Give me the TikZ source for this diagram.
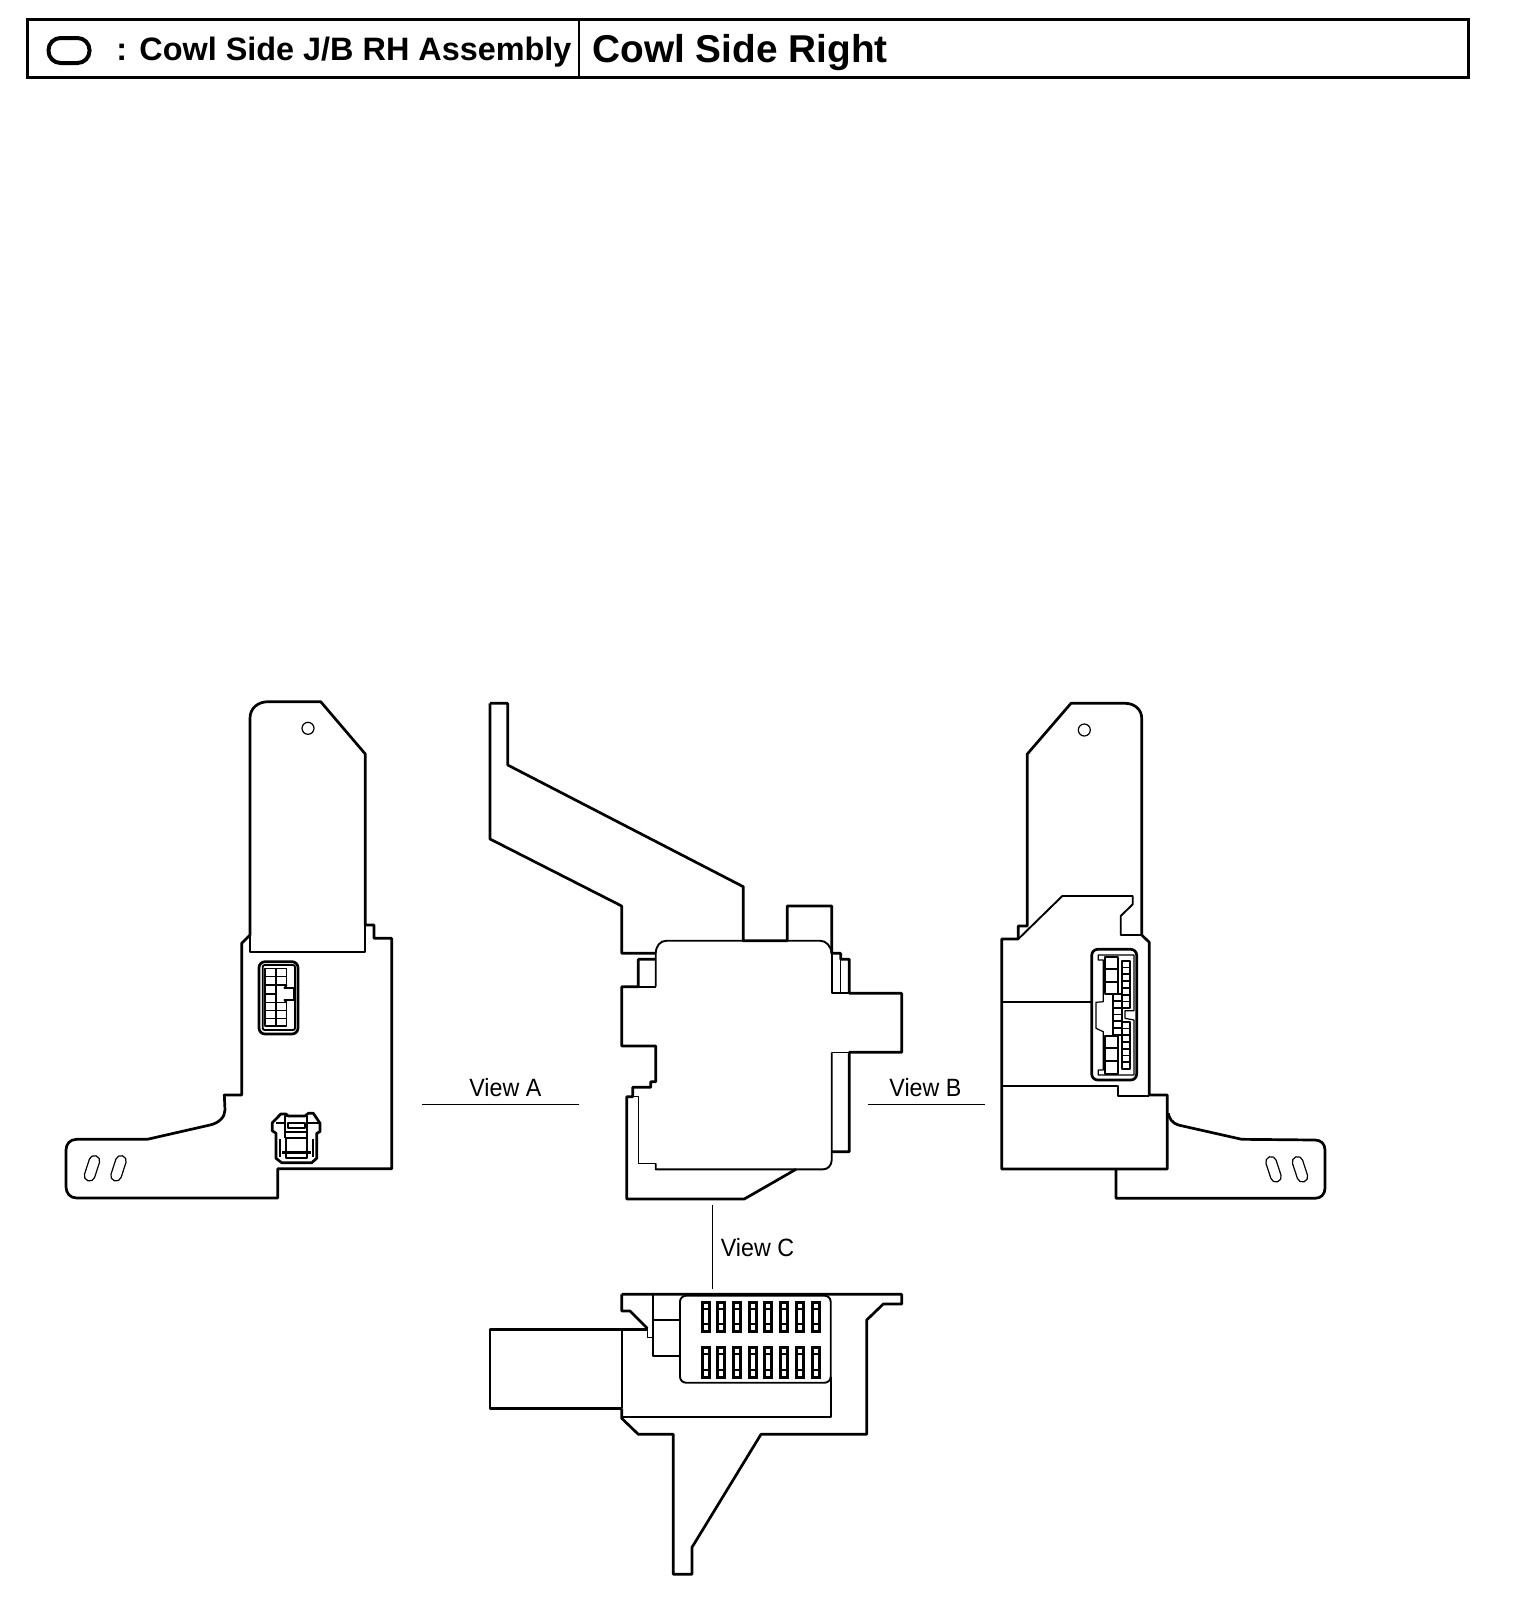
\documentclass[tikz,border=0pt]{standalone}
\usepackage{fontspec}
\setmainfont{Liberation Sans}
\newfontfamily\viewfont[FakeStretch=0.93]{Liberation Sans}
\usetikzlibrary{positioning}

\tikzset{
    outline/.style={line width=1.35pt, line join=round},
    midline/.style={line width=0.95pt, line join=round},
    fineline/.style={line width=0.6pt, line join=round},
    pinblock/.style={line width=1.5pt},
    keyoval/.style={draw, line width=2pt, rounded corners=6pt, minimum width=20.5pt, minimum height=12.5pt, inner sep=0pt},
    headsmall/.style={anchor=base west, inner sep=0pt, font=\fontsize{16.2}{16}\selectfont\bfseries},
    headbig/.style={anchor=base west, inner sep=0pt, font=\fontsize{19.4}{20}\selectfont\bfseries},
    viewlabel/.style={anchor=base west, inner sep=0pt, font=\viewfont\fontsize{12.5}{13}\selectfont}
}

% one tilted mounting slot: centre x, centre y, angle
\newcommand{\mountslot}[3]{
    \draw [fineline, rounded corners=2.6pt, rotate around={#3:(#1,#2)}] (#1-5.3,#2-13.1) rectangle (#1+5.3,#2+13.1);
}

\begin{document}
\begin{tikzpicture}[x=0.5pt, y=-0.5pt]
    \useasboundingbox (0,0) rectangle (1520,1622);

    % Title bar
    \draw [line width=1.5pt] (27.5,19.5) rectangle (1468,77);
    \draw [fineline] (579,19) -- (579,77);
    \node [keyoval] 	(keysym)   at (69,50.5)   {};
    \node [headsmall] 	(colon)    at (116,61)    {:};
    \node [headsmall] 	(boxname)  at (139,61)    {Cowl Side J/B RH Assembly};
    \node [headbig] 	(location) at (592,62)    {Cowl Side Right};

    % View A: outline
    \draw [outline] (250,935) -- (250,718.3) .. controls (250,708) and (258,701.7) .. (268.3,701.7)
        -- (320.7,701.7) -- (365.3,754) -- (365.3,925) -- (374,925) -- (374,938.3) -- (391.7,938.3)
        -- (391.7,1168.8) -- (277.7,1168.8) -- (277.7,1198) -- (76.7,1198)
        .. controls (70,1198) and (66,1193) .. (66,1186.7) -- (66,1150)
        .. controls (66,1144) and (70,1139.3) .. (76.7,1139.3) -- (147.3,1139.3) -- (210,1125)
        .. controls (219,1123) and (225,1117) .. (225,1110) -- (224.3,1095) -- (241.7,1095)
        -- (241.7,943.3) -- cycle;
    \draw [midline] (250,935) -- (250,951.7) -- (365.3,951.7) -- (365.3,925);
    \draw [fineline] (308,728.3) circle (3pt);
    \mountslot{92}{1168.3}{-18}
    \mountslot{118.5}{1168.3}{-18}

    % View A: upper connector
    \draw [outline, rounded corners=3pt] (259,961.7) rectangle (298,1034);
    \draw [midline, rounded corners=1pt] (262.7,965) rectangle (295,1030);
    \foreach \ya/\yb in {968.3/976.7, 976.7/985, 1002.7/1010.7, 1010.7/1018.3, 1018.3/1026} {
        \draw [fineline] (265,\ya) rectangle (276,\yb);
        \draw [fineline] (276,\ya) rectangle (286.7,\yb);
    }
    \draw [fineline] (265,985) rectangle (276,994);
    \draw [fineline] (265,994) rectangle (276,1002.7);
    \draw [midline] (286.7,985) -- (284.5,988) -- (296,988);
    \draw [midline] (296,1000) -- (284.5,1000) -- (286.7,1002.7);
    \draw [outline] (294.5,988) -- (294.5,1000);

    % View A: lower connector
    \draw [outline] (276.7,1118.3) -- (280.7,1114) -- (286,1114) -- (288.3,1116) -- (305,1116)
        -- (308.3,1113.3) -- (313.3,1113.3) -- (316.7,1118.3) -- (320,1123.3) -- (320,1131.7)
        -- (316.7,1133.3) -- (316.7,1158.3) -- (311.7,1162.7) -- (281.7,1162.7) -- (276,1158.3)
        -- (276,1133.3) -- (272.3,1130.7) -- (272.3,1122.7) -- cycle;
    \draw [midline] (285,1116) rectangle (307,1132);
    \draw [fineline] (276,1123) -- (285,1123);
    \draw [fineline] (307,1123) -- (320,1123);
    \draw [outline] (288,1123) rectangle (305,1128);
    \draw [midline] (286,1138) rectangle (307,1158);
    \draw [outline] (282,1152.5) -- (311,1152.5);
    \draw [midline] (280,1139) -- (280,1157);
    \draw [midline] (313,1139) -- (313,1157);
    \draw [midline] (285,1132) -- (285,1138);
    \draw [midline] (307,1132) -- (307,1138);

    % View B: outline
    \draw [outline] (1027.3,926) -- (1027.3,754) -- (1071,703.3) -- (1125,703.3)
        .. controls (1135,703.3) and (1141.7,710) .. (1141.7,718.3) -- (1141.7,935)
        -- (1149.3,942.3) -- (1149.3,1095) -- (1167.3,1095) -- (1167.3,1169) -- (1001.7,1169)
        -- (1001.7,939) -- (1018.3,939) -- (1018.3,926) -- cycle;
    \draw [outline] (1116,1169) -- (1116,1198.3) -- (1315,1198.3)
        .. controls (1321,1198.3) and (1325,1194) .. (1325,1188.3) -- (1325,1150)
        .. controls (1325,1144) and (1321,1140) .. (1315,1140) -- (1241.7,1139.3) -- (1178.3,1125)
        .. controls (1172,1123) and (1169,1118) .. (1168.3,1113.3);
    \draw [midline] (1018.3,939) -- (1062.3,896) -- (1132.7,896) -- (1132.7,904.3) -- (1120.7,916)
        -- (1120.7,935) -- (1141.7,935);
    \draw [midline] (1001.7,1001.7) -- (1091.7,1001.7);
    \draw [midline] (1001.7,1086) -- (1118.3,1086) -- (1118.3,1095.7) -- (1149.3,1095.7);
    \draw [fineline] (1084.3,730) circle (3pt);
    \mountslot{1273.5}{1169.3}{18}
    \mountslot{1300}{1169.3}{18}

    % View B: connector
    \draw [outline, rounded corners=3pt] (1091.7,949.3) rectangle (1136.7,1080);
    \draw [fineline] (1098.3,955) -- (1134,955) -- (1134,1010.7) -- (1125,1010.7) -- (1125,1018.3)
        -- (1134,1020) -- (1134,1075) -- (1098.3,1075) -- (1098.3,1070) -- (1103.3,1070)
        -- (1103.3,1031.7) -- (1096,1028.3) -- (1096,1002.3) -- (1103.3,1001.7) -- (1103.3,960)
        -- (1098.3,960) -- cycle;
    \foreach \ya/\yb in {956.7/969.3, 969.3/981.7, 981.7/994, 1035.7/1048.3, 1048.3/1060.7, 1060.7/1074}
        \draw [midline] (1105,\ya) rectangle (1118.3,\yb);
    \foreach \i in {0,...,6} {
        \draw [midline] (1122.3,960.7+\i*6.8) rectangle (1130.3,960.7+\i*6.8+6.8);
        \draw [midline] (1122.3,1021.7+\i*6.76) rectangle (1130.3,1021.7+\i*6.76+6.76);
    }
    \foreach \i in {0,...,5}
        \draw [midline] (1113.3,994+\i*6.83) rectangle (1122.3,994+\i*6.83+6.83);

    % View C: outline of the top view
    \draw [outline] (490,703.3) -- (507.7,703.3) -- (507.7,765) -- (743.3,886.7) -- (743.3,940.7)
        -- (787.3,940.7) -- (787.3,906) -- (831.7,906) -- (831.7,953.3) -- (840.7,953.3) -- (840.7,959.3)
        -- (849.3,959.3) -- (849.3,993.3) -- (901.7,993.3) -- (901.7,1052.3) -- (849.3,1052.3)
        -- (849.3,1151.7) -- (831.7,1151.7);
    \draw [outline] (490,703.3) -- (490,839) -- (621.7,906) -- (621.7,953.3) -- (655.7,953.3);
    \draw [outline] (655.7,959.3) -- (638.3,959.3) -- (638.3,986.7) -- (621.7,986.7) -- (621.7,1046)
        -- (655.7,1046) -- (655.7,1081.7) -- (650.7,1081.7) -- (650.7,1087.3) -- (632.7,1087.3)
        -- (632.7,1096.7) -- (626.7,1096.7) -- (626.7,1199) -- (744.3,1199) -- (796,1169.3);
    \draw [midline] (655.7,986.7) -- (655.7,953.3) .. controls (656,946) and (660,940.7) .. (666.7,940.7)
        -- (743.3,940.7);
    \draw [midline] (787.3,940.7) -- (820,940.7) .. controls (826,940.7) and (831,946) .. (831.7,953.3);
    \draw [midline] (638.3,986.7) -- (655.7,986.7);
    \draw [midline] (831.7,953.3) -- (831.7,993.3) -- (849.3,993.3);
    \draw [fineline] (840.7,959.3) -- (840.7,993.3);
    \draw [fineline] (831.7,1052.3) -- (849.3,1052.3);
    \draw [midline] (831.7,1052.3) -- (831.7,1160) .. controls (831.7,1165) and (828,1169.3) .. (823.3,1169.3)
        -- (796,1169.3) -- (655.7,1169.3) -- (655.7,1163.3);
    \draw [fineline] (655.7,1163.3) -- (638.3,1163.3) -- (638.3,1096.7) -- (626.7,1096.7);

    % View C: bottom view
    \draw [outline] (621.7,1294.3) -- (901.7,1294.3) -- (901.7,1304) -- (883.3,1304) -- (866.7,1320)
        -- (866.7,1434.3) -- (761,1434.3) -- (692,1547.3) -- (692,1574.3) -- (673.3,1574.3)
        -- (673.3,1434.3) -- (638.3,1434.3) -- (621.7,1418.3) -- (621.7,1408.3);
    \draw [outline] (621.7,1294.3) -- (621.7,1311) -- (630,1311) -- (647.3,1328.3);
    \draw [outline] (647.3,1329.3) -- (490,1329.3) -- (490,1408.3) -- (621.7,1408.3);
    \draw [midline] (621.7,1329.3) -- (621.7,1408.3);
    \draw [fineline] (647.3,1328.3) -- (647.3,1337.7) -- (652.7,1337.7);
    \draw [midline] (652.7,1294.3) -- (652.7,1355.7) -- (680,1355.7);
    \draw [fineline] (652.7,1320) -- (680,1320);
    \draw [midline, rounded corners=3pt] (680,1295.7) rectangle (830.7,1382.7);
    \draw [midline] (830.7,1377) -- (830.7,1416.7) -- (621.7,1416.7);
    \foreach \i in {0,...,7} {
        \draw [pinblock] (702.3+\i*15.67,1302) rectangle (709.3+\i*15.67,1331.4);
        \draw [midline] (702.3+\i*15.67,1309) -- (709.3+\i*15.67,1309);
        \draw [midline] (702.3+\i*15.67,1324) -- (709.3+\i*15.67,1324);
        \draw [pinblock] (702.3+\i*15.67,1347) rectangle (709.3+\i*15.67,1377);
        \draw [midline] (702.3+\i*15.67,1354) -- (709.3+\i*15.67,1354);
        \draw [midline] (702.3+\i*15.67,1370) -- (709.3+\i*15.67,1370);
    }

    % View labels
    \coordinate (leadA1) at (422,1104.3);
    \coordinate (leadA2) at (579,1104.3);
    \coordinate (leadB1) at (868,1104.3);
    \coordinate (leadB2) at (985,1104.3);
    \coordinate (leadC1) at (712.3,1205);
    \coordinate (leadC2) at (712.3,1289);
    \draw [fineline] (leadA1) -- (leadA2);
    \draw [fineline] (leadB1) -- (leadB2);
    \draw [fineline] (leadC1) -- (leadC2);
    \node [viewlabel] 	(viewA) at (469,1096)   {View A};
    \node [viewlabel] 	(viewB) at (889,1096)   {View B};
    \node [viewlabel] 	(viewC) at (720.5,1256) {View C};
\end{tikzpicture}
\end{document}
